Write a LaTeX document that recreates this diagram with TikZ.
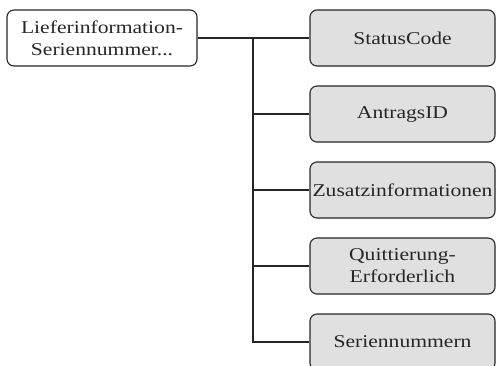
\documentclass[tikz,border=0pt]{standalone}
\usepackage{fontspec}
\setmainfont{Liberation Serif}[FakeStretch=1.2]
\begin{document}
\begin{tikzpicture}[x=1pt,y=-1pt,
  box/.style={draw=black!85,line width=1.1pt,rounded corners=7pt,
    minimum height=56pt,inner sep=0pt,align=center,
    font=\fontsize{18}{22}\selectfont,text=black!85},
  rootbox/.style={box,fill=white,minimum width=190pt},
  leaf/.style={box,fill=black!12,minimum width=185pt},
  link/.style={draw=black!85,line width=1.1pt}]
\useasboundingbox (0,0) rectangle (497,365);
\clip (0,0) rectangle (497,365);
% root entry
\node[rootbox] (root) at (102,38) {Lieferinformation-\\Seriennummer...};
% child entries
\node[leaf] (c1) at (402.5,38)  {StatusCode};
\node[leaf] (c2) at (402.5,114) {AntragsID};
\node[leaf] (c3) at (402.5,190) {Zusatzinformationen};
\node[leaf] (c4) at (402.5,266) {Quittierung-\\Erforderlich};
\node[leaf] (c5) at (402.5,342) {Seriennummern};
% trunk of the tree
\coordinate (t1) at (253,38);
\coordinate (t5) at (253,342);
\draw[link] (root.east) -- (t1) -- (c1.west);
\draw[link] (t1) -- (t5) -- (c5.west);
\draw[link] (t1 |- c2.west) -- (c2.west);
\draw[link] (t1 |- c3.west) -- (c3.west);
\draw[link] (t1 |- c4.west) -- (c4.west);
\end{tikzpicture}
\end{document}
